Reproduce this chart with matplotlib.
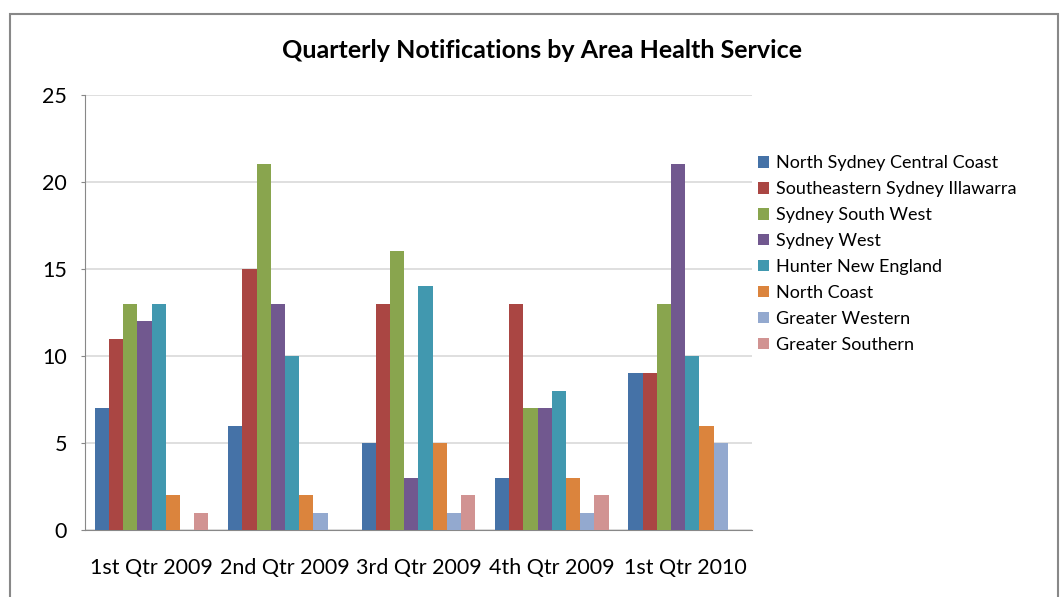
import numpy as np
import matplotlib
matplotlib.use('Agg')
import matplotlib.pyplot as plt
from matplotlib.patches import Rectangle

plt.rcParams['font.family'] = ['Lato', 'DejaVu Sans']

# quarters on the x axis
quarters = ['1st Qtr 2009', '2nd Qtr 2009', '3rd Qtr 2009', '4th Qtr 2009', '1st Qtr 2010']

# area health services (one series each)
services = ['North Sydney Central Coast', 'Southeastern Sydney Illawarra', 'Sydney South West',
            'Sydney West', 'Hunter New England', 'North Coast', 'Greater Western', 'Greater Southern']

north_sydney = [7, 6, 5, 3, 9]
southeastern = [11, 15, 13, 13, 9]
sydney_sw = [13, 21, 16, 7, 13]
sydney_west = [12, 13, 3, 7, 21]
hunter = [13, 10, 14, 8, 10]
north_coast = [2, 2, 5, 3, 6]
greater_western = [0, 1, 1, 1, 5]
greater_southern = [1, 0, 2, 2, 0]

series = [north_sydney, southeastern, sydney_sw, sydney_west, hunter,
          north_coast, greater_western, greater_southern]
colors = ['#4572A7', '#AA4643', '#89A54E', '#71588F', '#4198AF', '#DB843D', '#93A9CF', '#D19392']

fig = plt.figure(figsize=(10.62, 5.97), dpi=100)
ax = fig.add_axes([0.080, 0.1122, 0.628, 0.729])

x = np.arange(len(quarters))
n = len(series)
w = 1 / (n + 1.4)
for i, (vals, c) in enumerate(zip(series, colors)):
    offs = (i - (n - 1) / 2) * w
    ax.bar(x + offs, vals, width=w, color=c, label=services[i], zorder=3)

ax.set_xlim(-0.5, len(quarters) - 0.5)
ax.set_ylim(0, 25)
ax.set_yticks(range(0, 26, 5))
ax.set_xticks(x)
ax.set_xticklabels(quarters, fontsize=15.5)
ax.tick_params(axis='y', labelsize=15.5, length=3, color='#888888', pad=10)
ax.tick_params(axis='x', length=0, pad=20)
ax.grid(axis='y', color='#d9d9d9', linewidth=1.2, zorder=0)
for s in ['top', 'right']:
    ax.spines[s].set_visible(False)
ax.spines['left'].set_color('#888888')
ax.spines['bottom'].set_color('#888888')

fig.text(0.510, 0.915, 'Quarterly Notifications by Area Health Service',
         ha='center', va='center', fontsize=18, fontweight='bold')

fig.legend(loc='upper left', bbox_to_anchor=(0.707, 0.752), frameon=False,
           fontsize=13, handlelength=0.6, handleheight=0.6, handletextpad=0.4,
           labelspacing=0.55, borderaxespad=0)

# outer chart border
fig.patches.append(Rectangle((0.0094, -0.1), 0.987, 1.077, transform=fig.transFigure,
                             fill=False, edgecolor='#888888', linewidth=1.5))

plt.savefig('out.png', dpi=100)
